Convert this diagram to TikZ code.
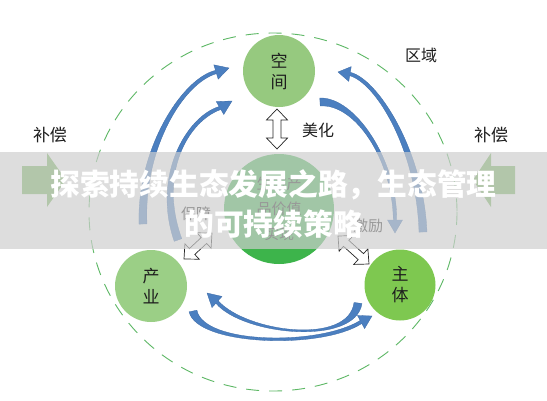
\documentclass[tikz,border=0pt]{standalone}
\usepackage{fontspec}
\newfontfamily\cjk{Noto Sans CJK SC}
\usetikzlibrary{calc}
\definecolor{gA}{HTML}{96C97F}
\definecolor{gB}{HTML}{9BCF86}
\definecolor{gC}{HTML}{7EC850}
\definecolor{gD}{HTML}{3DB44B}
\definecolor{dashg}{HTML}{5DB865}
\definecolor{blk}{HTML}{4B7FC0}
\definecolor{bled}{HTML}{3A69A6}
\definecolor{gbar}{HTML}{74B358}
\definecolor{band}{HTML}{CFCFCF}
\definecolor{ink}{HTML}{1E1E1E}
\tikzset{
 bub/.style={circle, inner sep=0pt, align=center, text=ink, font=\cjk\fontsize{17}{21}\selectfont},
 lbl/.style={inner sep=0pt, text=ink, font=\cjk\fontsize{16}{18}\selectfont},
 barrow/.style={fill=blk, draw=bled, line width=0.3pt},
 hollow/.style={draw=black!85, fill=white, line width=0.7pt, line join=miter},
 greenarr/.style={fill=gbar},
 ring/.style={draw=dashg, line width=0.9pt, dash pattern=on 13pt off 10pt},
 banner/.style={fill=band, fill opacity=0.69},
 ttl/.style={inner sep=0pt, text=white, anchor=base, font=\cjk\bfseries\fontsize{29.75}{34}\selectfont},
}
\newcommand\dblarr[2]{%
 \draw[hollow] (#1) -- ($(#1)!11pt!(#2)!10.5pt!90:(#2)$) -- ($(#1)!11pt!(#2)!4pt!90:(#2)$)
 -- ($(#2)!11pt!(#1)!4pt!-90:(#1)$) -- ($(#2)!11pt!(#1)!10.5pt!-90:(#1)$) -- (#2)
 -- ($(#2)!11pt!(#1)!10.5pt!90:(#1)$) -- ($(#2)!11pt!(#1)!4pt!90:(#1)$)
 -- ($(#1)!11pt!(#2)!4pt!-90:(#2)$) -- ($(#1)!11pt!(#2)!10.5pt!-90:(#2)$) -- cycle;}
\newcommand\crarr[5]{%
 \filldraw[barrow] ($(#1)!4pt!90:(#2)$) .. controls ($(#2)!3.4pt!-90:(#1)$) and ($(#3)!2.4pt!90:(#4)$) .. ($(#4)!1.7pt!90:(#5)$)
 -- ($(#4)!7.5pt!90:(#5)$) -- (#5) -- ($(#4)!7.5pt!-90:(#5)$) -- ($(#4)!1.7pt!-90:(#5)$)
 .. controls ($(#3)!2.4pt!-90:(#4)$) and ($(#2)!3.4pt!90:(#1)$) .. ($(#1)!4pt!-90:(#2)$) -- cycle;}
\begin{document}
\begin{tikzpicture}[x=1pt,y=-1pt]
\useasboundingbox (0,0) rectangle (547,400);
\fill[white] (0,0) rectangle (547,400);
% dashed ring
\draw[ring] (273,212) ellipse [x radius=184, y radius=179];
% green block arrows
\fill[greenarr] (22,166) -- (47,166) -- (47,153) -- (66,180) -- (47,207) -- (47,194) -- (22,194) -- cycle;
\fill[greenarr] (515,166) -- (491,166) -- (491,153) -- (473,180) -- (491,207) -- (491,194) -- (515,194) -- cycle;
% circles
\node[bub, fill=gA, minimum size=72pt] (kj) at (279,71) {空\\间};
\node[bub, fill=gB, minimum size=72pt] (cy) at (151,286) {产\\业};
\node[bub, fill=gC, minimum size=71pt] (zt) at (400,285) {主\\体};
\node[bub, fill=gD, minimum size=110pt, font=\cjk\fontsize{15}{25}\selectfont] (sx) at (279,209) {生态产\\品价值\\实现};
% labels
\node[lbl] (qy) at (421,55) {区域};
\node[lbl, font=\cjk\fontsize{17}{18}\selectfont] (bcl) at (50,135) {补偿};
\node[lbl, font=\cjk\fontsize{17}{18}\selectfont] (bcr) at (491,135) {补偿};
\node[lbl] (mh) at (318,130) {美化};
\node[lbl, font=\cjk\fontsize{15}{18}\selectfont] (bz) at (196,214) {保障};
\node[lbl, font=\cjk\fontsize{15}{18}\selectfont] (jl) at (368,226) {激励};
% blue curved arrows
\coordinate (loT) at (143,224); \coordinate (loC) at (140,150); \coordinate (loD) at (182,81); \coordinate (loB) at (216,72); \coordinate (loH) at (229,68);
\crarr{loT}{loC}{loD}{loB}{loH}
\coordinate (liT) at (178,240); \coordinate (liC) at (155,175); \coordinate (liD) at (187,119); \coordinate (liB) at (220,108); \coordinate (liH) at (232,101);
\crarr{liT}{liC}{liD}{liB}{liH}
\coordinate (roT) at (423,232); \coordinate (roC) at (420,150); \coordinate (roD) at (377,81); \coordinate (roB) at (350,74); \coordinate (roH) at (338,72);
\crarr{roT}{roC}{roD}{roB}{roH}
\coordinate (riT) at (320,102); \coordinate (riC) at (355,100); \coordinate (riD) at (395,160); \coordinate (riB) at (395,220); \coordinate (riH) at (395,233);
\crarr{riT}{riC}{riD}{riB}{riH}
\coordinate (buT) at (358,303); \coordinate (buC) at (352,346); \coordinate (buD) at (245,334); \coordinate (buB) at (217,302); \coordinate (buH) at (207,293);
\crarr{buT}{buC}{buD}{buB}{buH}
\coordinate (blT) at (193,311); \coordinate (blC) at (200,345); \coordinate (blD) at (320,348); \coordinate (blB) at (361,322); \coordinate (blH) at (372,316);
\crarr{blT}{blC}{blD}{blB}{blH}
% hollow double arrows
\coordinate (vA) at (277,109); \coordinate (vB) at (277,149);
\dblarr{vA}{vB}
\coordinate (lA) at (184,259); \coordinate (lB) at (212,233);
\dblarr{lA}{lB}
\coordinate (rA) at (338,236); \coordinate (rB) at (369,264);
\dblarr{rA}{rB}
% banner
\fill[banner] (0,152) rectangle (547,249);
\node[ttl] (t1) at (273.5,195) {探索持续生态发展之路，生态管理};
\node[ttl] (t2) at (273.5,235) {的可持续策略};
\end{tikzpicture}
\end{document}
